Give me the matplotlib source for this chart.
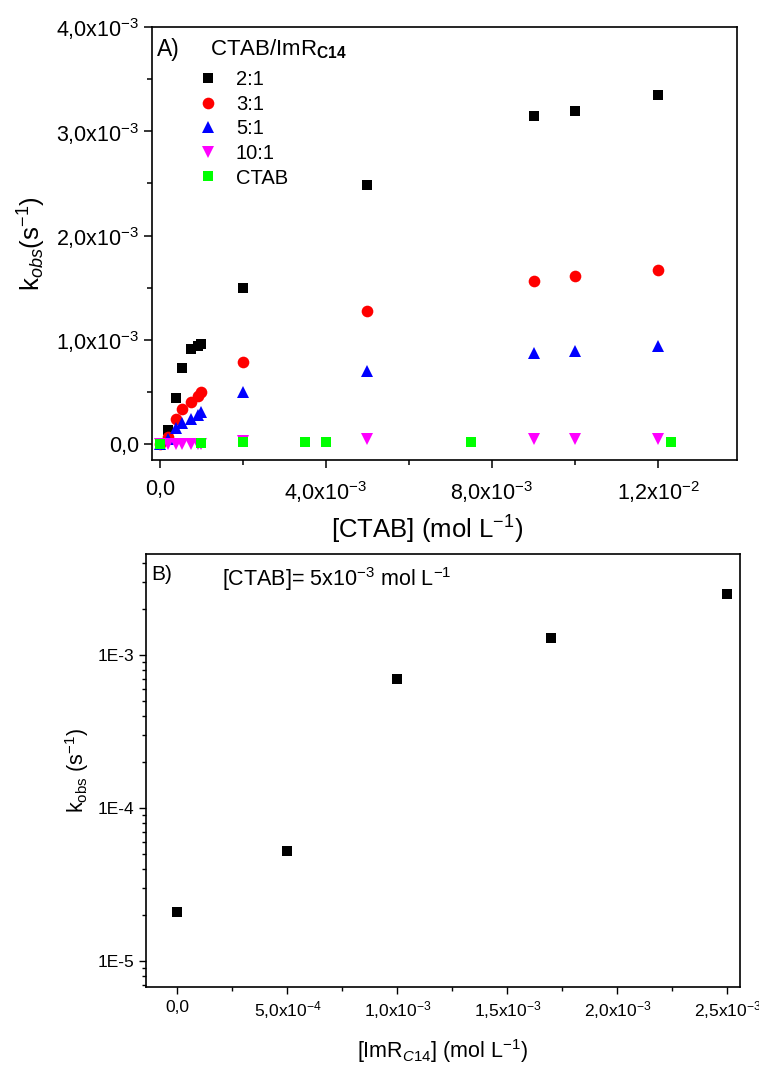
import numpy as np
import matplotlib
matplotlib.use("Agg")
import matplotlib.pyplot as plt
from matplotlib.ticker import MultipleLocator, FuncFormatter, LogLocator, NullFormatter

plt.rcParams['font.family'] = ['Liberation Sans', 'DejaVu Sans']
plt.rcParams['mathtext.fontset'] = 'custom'
plt.rcParams['mathtext.rm'] = 'Liberation Sans'
plt.rcParams['mathtext.it'] = 'Liberation Sans:italic'
plt.rcParams['mathtext.bf'] = 'Liberation Sans:bold'

# Panel A: kobs vs [CTAB] for each CTAB/ImR ratio (x and y in units of 1e-3)
x_21 = [0, 0.2, 0.4, 0.54, 0.74, 0.91, 1.0, 2.0, 5.0, 9.0, 10.0, 12.0]
k_21 = [0, 0.134, 0.44, 0.73, 0.91, 0.94, 0.956, 1.50, 2.48, 3.15, 3.19, 3.35]
x_31 = [0, 0.2, 0.4, 0.54, 0.74, 0.91, 1.0, 2.0, 5.0, 9.0, 10.0, 12.0]
k_31 = [0, 0.07, 0.245, 0.34, 0.40, 0.46, 0.50, 0.79, 1.28, 1.56, 1.61, 1.67]
x_51 = [0, 0.2, 0.4, 0.54, 0.74, 0.91, 1.0, 2.0, 5.0, 9.0, 10.0, 12.0]
k_51 = [0, 0.05, 0.15, 0.20, 0.245, 0.28, 0.31, 0.50, 0.70, 0.87, 0.89, 0.94]
x_101 = [0, 0.2, 0.4, 0.54, 0.74, 0.91, 1.0, 2.0, 5.0, 9.0, 10.0, 12.0]
k_101 = [0, 0.005, 0.005, 0.005, 0.005, 0.005, 0.005, 0.03, 0.045, 0.05, 0.05, 0.05]
x_ctab = [0, 1.0, 2.0, 3.5, 4.0, 7.5, 12.3]
k_ctab = [0.005, 0.01, 0.015, 0.02, 0.02, 0.02, 0.02]

series_A = [
    (x_21, k_21, 's', '#000000', 7.2, '2:1'),
    (x_31, k_31, 'o', '#FF0000', 8.4, '3:1'),
    (x_51, k_51, '^', '#0000FF', 8.4, '5:1'),
    (x_101, k_101, 'v', '#FF00FF', 8.4, '10:1'),
    (x_ctab, k_ctab, 's', '#00FF00', 7.2, 'CTAB'),
]

# Panel B: kobs vs [ImR_C14] at [CTAB] = 5e-3
x_imr = [0, 5e-4, 1e-3, 1.7e-3, 2.5e-3]
k_imr = [2.1e-5, 5.25e-5, 7.0e-4, 1.28e-3, 2.49e-3]


def sci_comma(v, pos):
    if abs(v) < 1e-12:
        return "0,0"
    e = int(np.floor(np.log10(abs(v)) + 1e-9))
    m = v / 10**e
    return ("%.1f" % m).replace('.', ',') + "x10$^{%d}$" % e


fig = plt.figure(figsize=(7.59, 10.68), dpi=100)

# ---- panel A
axA = fig.add_axes([152/759, 1-460/1068, (737-152)/759, (460-27)/1068])
for xs, ks, mk, col, ms, lab in series_A:
    axA.plot(np.array(xs)*1e-3, np.array(ks)*1e-3, linestyle='none', marker=mk,
             color=col, markersize=ms, markeredgewidth=0, label=lab)
axA.set_xlim(-0.19e-3, 13.9e-3)
axA.set_ylim(-0.153e-3, 4.0e-3)
axA.xaxis.set_major_locator(MultipleLocator(4e-3))
axA.xaxis.set_minor_locator(MultipleLocator(2e-3))
axA.yaxis.set_major_locator(MultipleLocator(1e-3))
axA.yaxis.set_minor_locator(MultipleLocator(0.5e-3))
axA.xaxis.set_major_formatter(FuncFormatter(sci_comma))
axA.yaxis.set_major_formatter(FuncFormatter(sci_comma))
axA.tick_params(which='both', direction='out', labelsize=15.5, width=1.1)
axA.tick_params(which='major', length=6)
axA.tick_params(which='minor', length=3.5)
axA.tick_params(axis='x', pad=8)
for s in axA.spines.values():
    s.set_linewidth(1.2)
axA.set_xlabel("[CTAB] (mol L$^{-1}$)", fontsize=18.5)
axA.xaxis.set_label_coords(0.47, -0.125)
axA.set_ylabel(r"k$_{\mathit{obs}}$(s$^{-1}$)", fontsize=18.5)
axA.yaxis.set_label_coords(-0.178, 0.5)
axA.text(0.008, 0.975, "A)", transform=axA.transAxes, fontsize=16.5, va='top', ha='left')
axA.text(0.099, 0.975, "CTAB/ImR$_{\\mathbf{C14}}$", transform=axA.transAxes,
         fontsize=16, va='top', ha='left')
leg = axA.legend(loc='upper left', bbox_to_anchor=(0.047, 0.938), frameon=False,
                 fontsize=14.5, labelspacing=0.28, handletextpad=0.8, handlelength=1.2,
                 borderpad=0.3)

# ---- panel B
axB = fig.add_axes([146/759, 1-987/1068, (740-146)/759, (987-554)/1068])
axB.plot(x_imr, k_imr, linestyle='none', marker='s', color='#000000', markersize=6.8,
         markeredgewidth=0)
axB.set_yscale('log')
axB.set_xlim(-0.143e-3, 2.557e-3)
axB.set_ylim(6.8e-6, 4.55e-3)
axB.xaxis.set_major_locator(MultipleLocator(5e-4))
axB.xaxis.set_minor_locator(MultipleLocator(2.5e-4))
axB.xaxis.set_major_formatter(FuncFormatter(sci_comma))
axB.yaxis.set_major_locator(LogLocator(base=10))
axB.yaxis.set_minor_locator(LogLocator(base=10, subs=np.arange(2, 10)))
axB.yaxis.set_minor_formatter(NullFormatter())
axB.yaxis.set_major_formatter(FuncFormatter(lambda v, p: "1E%d" % int(round(np.log10(v)))))
axB.tick_params(which='both', direction='out', labelsize=12.5, width=1.0)
axB.tick_params(which='major', length=5)
axB.tick_params(which='minor', length=3)
axB.tick_params(axis='x', pad=4)
for s in axB.spines.values():
    s.set_linewidth(1.2)
axB.set_xlabel("[ImR$_{C14}$] (mol L$^{-1}$)", fontsize=15.5)
axB.xaxis.set_label_coords(0.5, -0.115)
axB.set_ylabel(r"k$_{\mathrm{obs}}$ (s$^{-1}$)", fontsize=15.5)
axB.yaxis.set_label_coords(-0.092, 0.5)
axB.text(0.008, 0.975, "B)", transform=axB.transAxes, fontsize=15, va='top', ha='left')
axB.text(0.128, 0.975, "[CTAB]= 5x10$^{-3}$ mol L$^{-1}$", transform=axB.transAxes,
         fontsize=15.5, va='top', ha='left')

fig.savefig("out.png", dpi=100)
